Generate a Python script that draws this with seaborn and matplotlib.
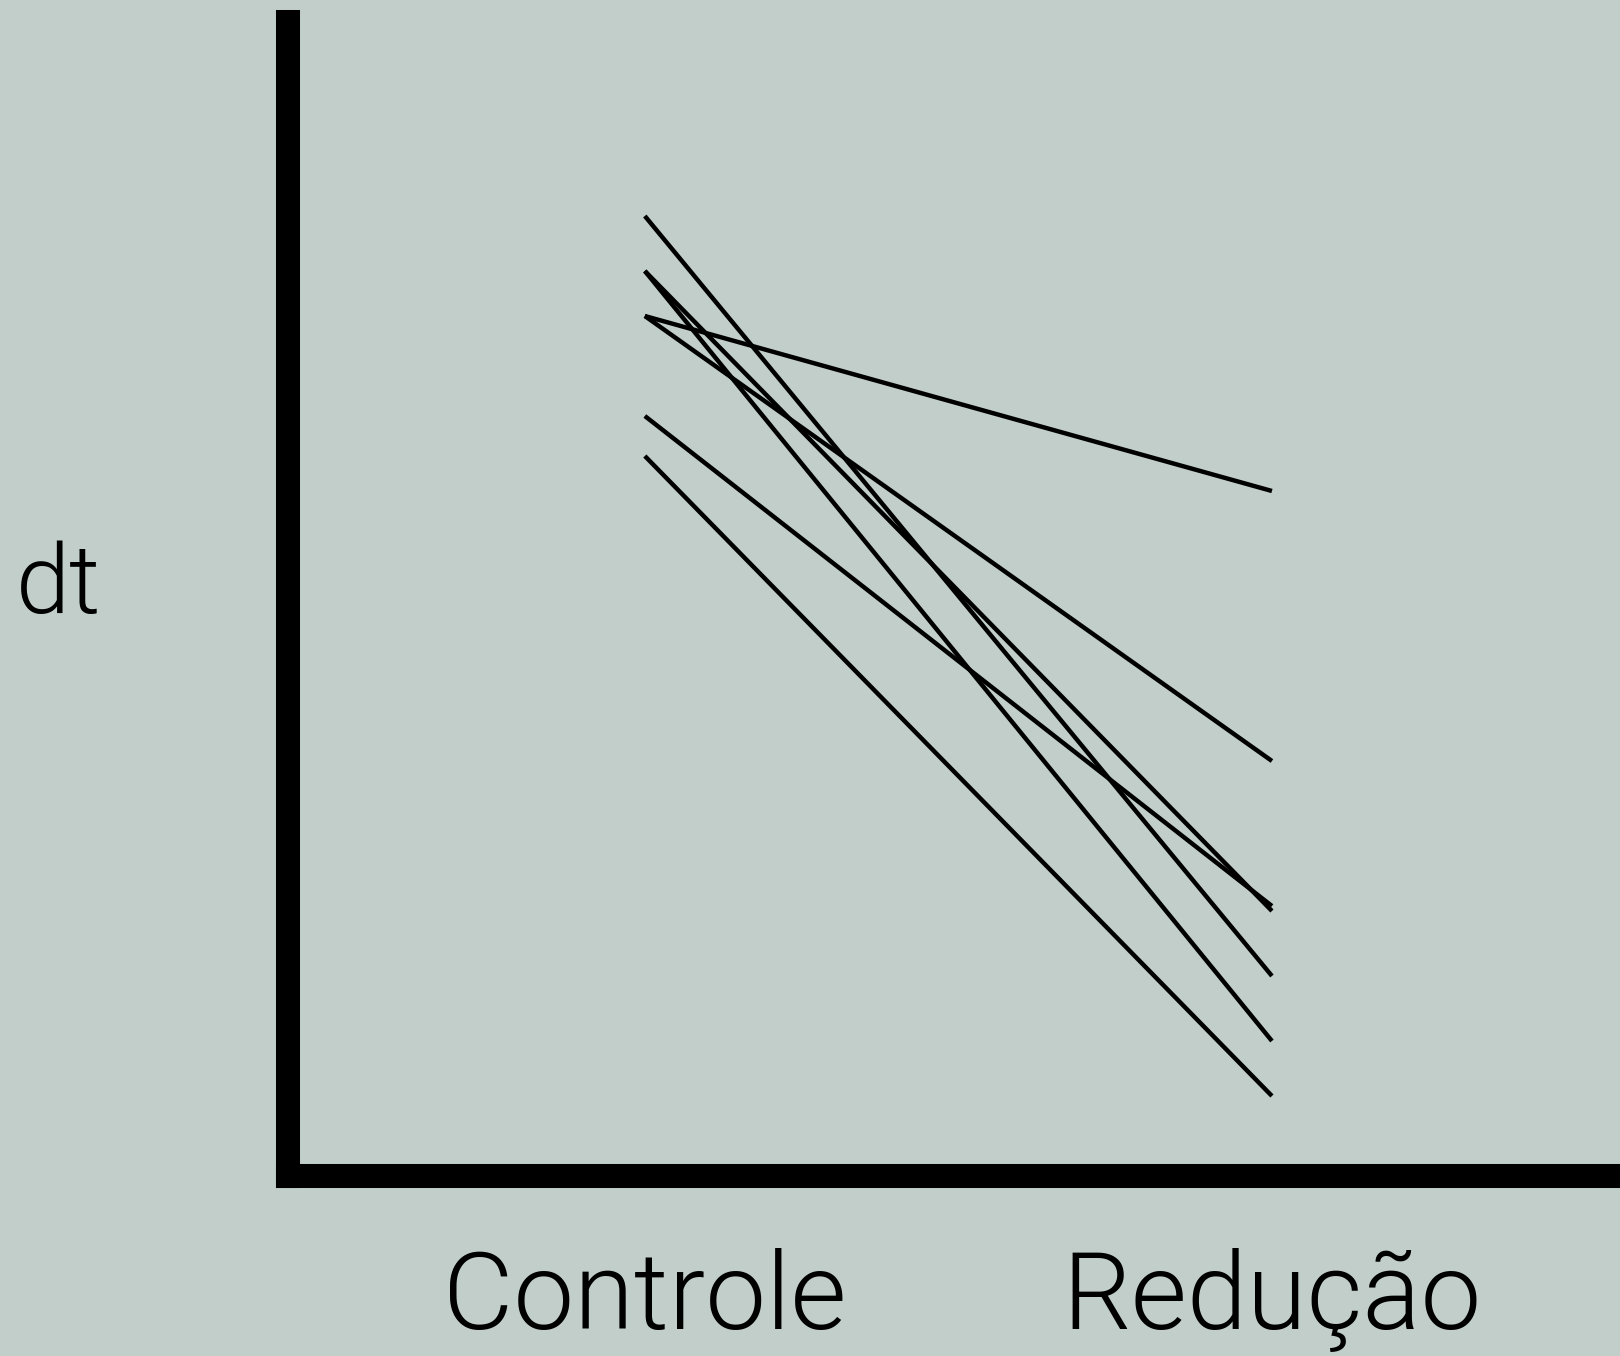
import pandas as pd
import seaborn as sns
import matplotlib.pyplot as plt

# dados (dt em unidades arbitrárias)
condicoes = ['Controle', 'Redução']
sujeitos = ['s1', 's2', 's3', 's4', 's5', 's6', 's7']
dt_controle = [96, 90.5, 90.5, 86, 86, 76, 72]
dt_reducao = [20, 13.5, 26.5, 68.5, 41.5, 27, 8]

linhas = []
for s, c, r in zip(sujeitos, dt_controle, dt_reducao):
    linhas.append({'sujeito': s, 'pos': 0, 'dt': c})
    linhas.append({'sujeito': s, 'pos': 1, 'dt': r})
df = pd.DataFrame(linhas)

fundo = '#c1cec9'
sns.set_theme(style='white')
plt.rcParams['font.family'] = ['Roboto', 'DejaVu Sans']

fig = plt.figure(figsize=(16.2, 13.56), dpi=100, facecolor=fundo)
ax = fig.add_axes([288 / 1620, 180 / 1356, 1332 / 1620, 1154 / 1356])
ax.set_facecolor(fundo)

sns.lineplot(data=df, x='pos', y='dt', units='sujeito', estimator=None,
             color='black', linewidth=3.2, ax=ax, legend=False,
             solid_capstyle='butt')

ax.set_xlim(-0.569, 1.555)
ax.set_ylim(0, 115.4)

for lado in ['top', 'right']:
    ax.spines[lado].set_visible(False)
for lado in ['left', 'bottom']:
    ax.spines[lado].set_linewidth(17.3)
    ax.spines[lado].set_color('black')
    ax.spines[lado].set_capstyle('projecting')

# peso 300 = Roboto Light (perto da Helvetica Neue Light do original)
ax.set_xticks([0, 1])
ax.set_xticklabels(condicoes, fontsize=78, fontweight=300, color='black')
ax.tick_params(axis='x', length=0, pad=52)
ax.set_yticks([])
ax.set_xlabel('')
ax.set_ylabel('dt', rotation=0, fontsize=70, fontweight=300, color='black',
              ha='left', va='baseline')
ax.yaxis.set_label_coords(-0.204, 0.488)

fig.savefig('out.png', dpi=100, facecolor=fundo)
